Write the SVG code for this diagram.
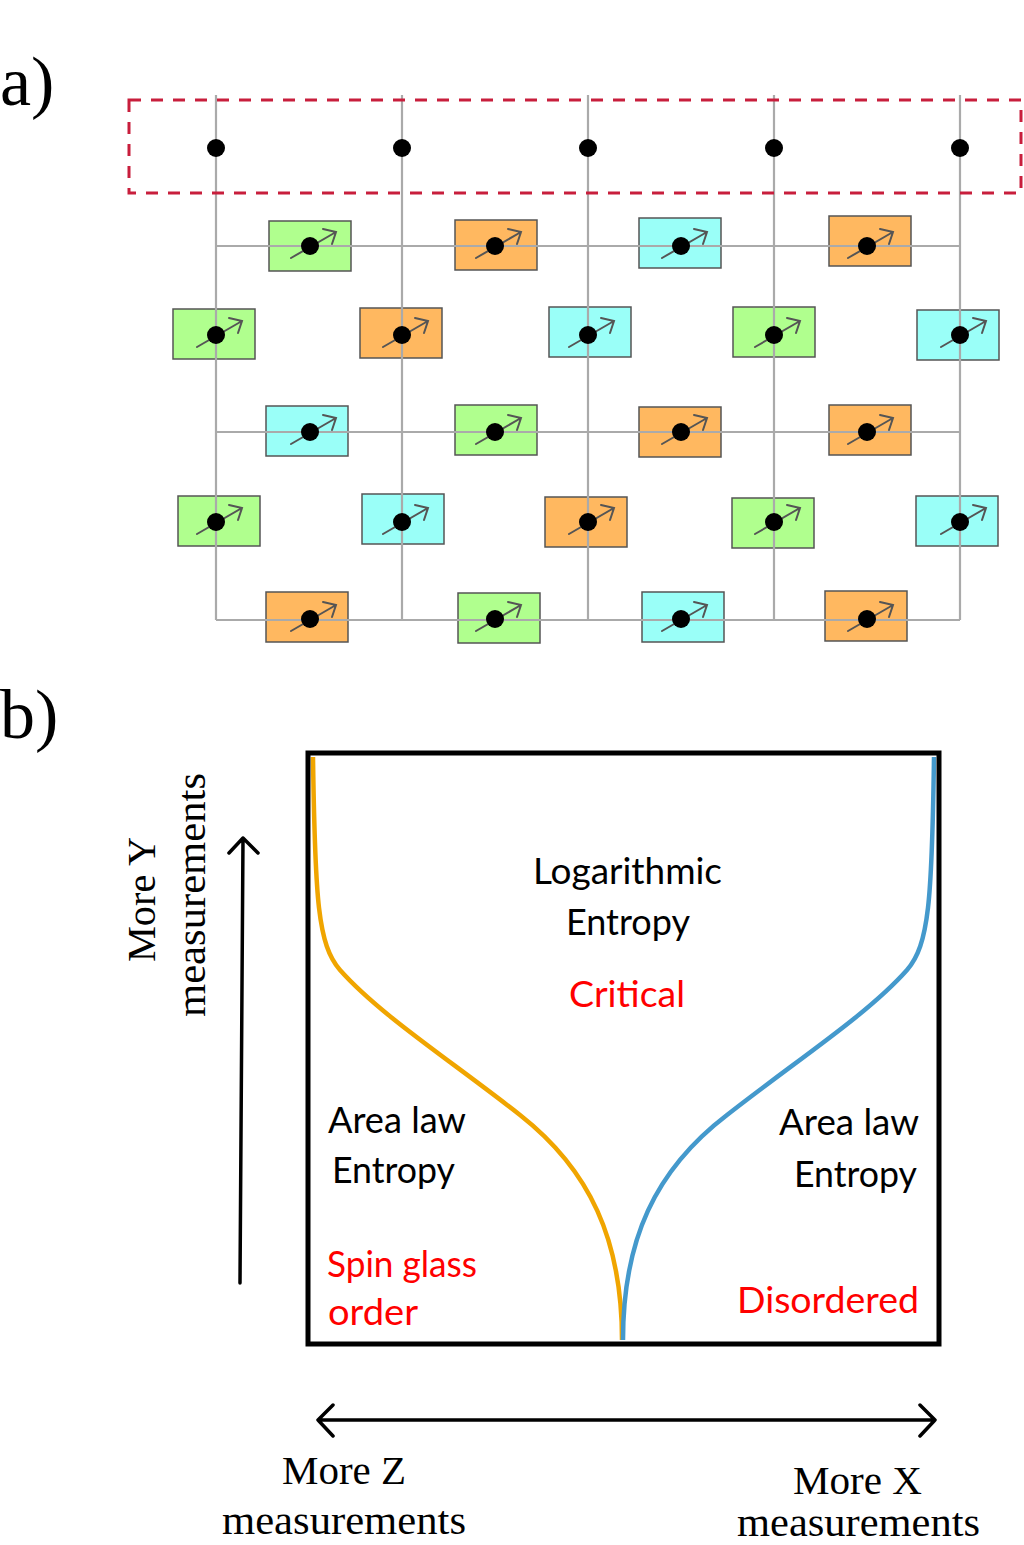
<svg xmlns="http://www.w3.org/2000/svg" xmlns:xlink="http://www.w3.org/1999/xlink" width="1024" height="1545" viewBox="0 0 1024 1545">
<style>
.bx{stroke:#555;stroke-width:1.5}
.g{fill:#b0ff8e}.o{fill:#ffb860}.c{fill:#9afff8}
.grid{stroke:#aaa;stroke-width:2.2;fill:none}
.sp{stroke:#555;stroke-width:2;fill:none;stroke-linecap:round}
.serif{font-family:'Liberation Serif','DejaVu Serif',serif;fill:#000}
.sans{font-family:Lato,'Open Sans','DejaVu Sans',sans-serif;font-size:37px}
.blk{fill:#000}.red{fill:#ff0000}
.ax{stroke:#000;stroke-width:3.5;fill:none;stroke-linecap:round;stroke-linejoin:round}
</style>
<defs>
<g id="spin"><path class="sp" d="M-19,12 L26,-14 M13,-17 L26,-14 L22,-2"/><circle r="9" fill="#000"/></g>
<circle id="dot" r="9" fill="#000"/>
</defs>
<rect width="1024" height="1545" fill="#fff"/>
<text class="serif" x="0" y="105" font-size="70">a)</text>
<text class="serif" x="0" y="738" font-size="70">b)</text>
<g id="boxes">
<rect class="bx g" x="269" y="221" width="82" height="50"/>
<rect class="bx o" x="455" y="220" width="82" height="50"/>
<rect class="bx c" x="639" y="218" width="82" height="50"/>
<rect class="bx o" x="829" y="216" width="82" height="50"/>
<rect class="bx g" x="173" y="309" width="82" height="50"/>
<rect class="bx o" x="360" y="308" width="82" height="50"/>
<rect class="bx c" x="549" y="307" width="82" height="50"/>
<rect class="bx g" x="733" y="307" width="82" height="50"/>
<rect class="bx c" x="917" y="310" width="82" height="50"/>
<rect class="bx c" x="266" y="406" width="82" height="50"/>
<rect class="bx g" x="455" y="405" width="82" height="50"/>
<rect class="bx o" x="639" y="407" width="82" height="50"/>
<rect class="bx o" x="829" y="405" width="82" height="50"/>
<rect class="bx g" x="178" y="496" width="82" height="50"/>
<rect class="bx c" x="362" y="494" width="82" height="50"/>
<rect class="bx o" x="545" y="497" width="82" height="50"/>
<rect class="bx g" x="732" y="498" width="82" height="50"/>
<rect class="bx c" x="916" y="496" width="82" height="50"/>
<rect class="bx o" x="266" y="592" width="82" height="50"/>
<rect class="bx g" x="458" y="593" width="82" height="50"/>
<rect class="bx c" x="642" y="592" width="82" height="50"/>
<rect class="bx o" x="825" y="591" width="82" height="50"/>
</g>
<g id="connectors">
<path class="grid" d="M216,95V620 M402,95V620 M588,95V620 M774,95V620 M960,95V620 M216,246H960 M216,432H960 M216,620H960"/>
<rect x="129" y="100" width="892" height="93" fill="none" stroke="#c81e3c" stroke-width="3" stroke-dasharray="12 10"/>
</g>
<g id="sites">
<use href="#dot" x="216" y="148"/><use href="#dot" x="402" y="148"/><use href="#dot" x="588" y="148"/><use href="#dot" x="774" y="148"/><use href="#dot" x="960" y="148"/>
<use href="#spin" x="310" y="246"/><use href="#spin" x="495" y="246"/><use href="#spin" x="681" y="246"/><use href="#spin" x="867" y="246"/>
<use href="#spin" x="216" y="335"/><use href="#spin" x="402" y="335"/><use href="#spin" x="588" y="335"/><use href="#spin" x="774" y="335"/><use href="#spin" x="960" y="335"/>
<use href="#spin" x="310" y="432"/><use href="#spin" x="495" y="432"/><use href="#spin" x="681" y="432"/><use href="#spin" x="867" y="432"/>
<use href="#spin" x="216" y="522"/><use href="#spin" x="402" y="522"/><use href="#spin" x="588" y="522"/><use href="#spin" x="774" y="522"/><use href="#spin" x="960" y="522"/>
<use href="#spin" x="310" y="619"/><use href="#spin" x="495" y="619"/><use href="#spin" x="681" y="619"/><use href="#spin" x="867" y="619"/>
</g>
<g id="phase-diagram">
<path d="M313,757 C315,900 318,945 340,970 C380,1015 450,1060 520,1115 C590,1170 622,1240 622,1340" fill="none" stroke="#f0a500" stroke-width="4.5"/>
<path d="M623,1340 C623,1240 655,1170 727,1115 C797,1060 867,1015 907,970 C929,945 932,900 934,757" fill="none" stroke="#4499cc" stroke-width="4.5"/>
<rect x="308" y="753" width="631" height="591" fill="none" stroke="#000" stroke-width="5"/>
</g>
<g id="labels">
<text class="sans blk" x="533" y="884" textLength="189" lengthAdjust="spacingAndGlyphs">Logarithmic</text>
<text class="sans blk" x="566" y="935" textLength="124" lengthAdjust="spacingAndGlyphs">Entropy</text>
<text class="sans red" x="569" y="1007" textLength="116" lengthAdjust="spacingAndGlyphs">Critical</text>
<text class="sans blk" x="328" y="1133" textLength="138" lengthAdjust="spacingAndGlyphs">Area law</text>
<text class="sans blk" x="332" y="1183" textLength="123" lengthAdjust="spacingAndGlyphs">Entropy</text>
<text class="sans red" x="327" y="1277" textLength="150" lengthAdjust="spacingAndGlyphs">Spin glass</text>
<text class="sans red" x="328" y="1325" textLength="90" lengthAdjust="spacingAndGlyphs">order</text>
<text class="sans blk" x="779" y="1135" textLength="140" lengthAdjust="spacingAndGlyphs">Area law</text>
<text class="sans blk" x="794" y="1187" textLength="123" lengthAdjust="spacingAndGlyphs">Entropy</text>
<text class="sans red" x="737" y="1313" textLength="182" lengthAdjust="spacingAndGlyphs">Disordered</text>
</g>
<g id="axes">
<path class="ax" d="M240,1283 L243,838 M229,853 L243,838 L258,853"/>
<path class="ax" d="M318,1420 H935 M333,1405 L318,1420 L333,1436 M920,1405 L935,1420 L920,1436"/>
<text class="serif" font-size="41" transform="translate(155,837) rotate(-90)" text-anchor="end" textLength="125" lengthAdjust="spacingAndGlyphs">More Y</text>
<text class="serif" font-size="41" transform="translate(205,773) rotate(-90)" text-anchor="end" textLength="244" lengthAdjust="spacingAndGlyphs">measurements</text>
<text class="serif" font-size="41" x="282" y="1484" textLength="124" lengthAdjust="spacingAndGlyphs">More Z</text>
<text class="serif" font-size="41" x="222" y="1534" textLength="244" lengthAdjust="spacingAndGlyphs">measurements</text>
<text class="serif" font-size="41" x="793" y="1494" textLength="129" lengthAdjust="spacingAndGlyphs">More X</text>
<text class="serif" font-size="40" x="737" y="1536" textLength="243" lengthAdjust="spacingAndGlyphs">measurements</text>
</g>
</svg>
